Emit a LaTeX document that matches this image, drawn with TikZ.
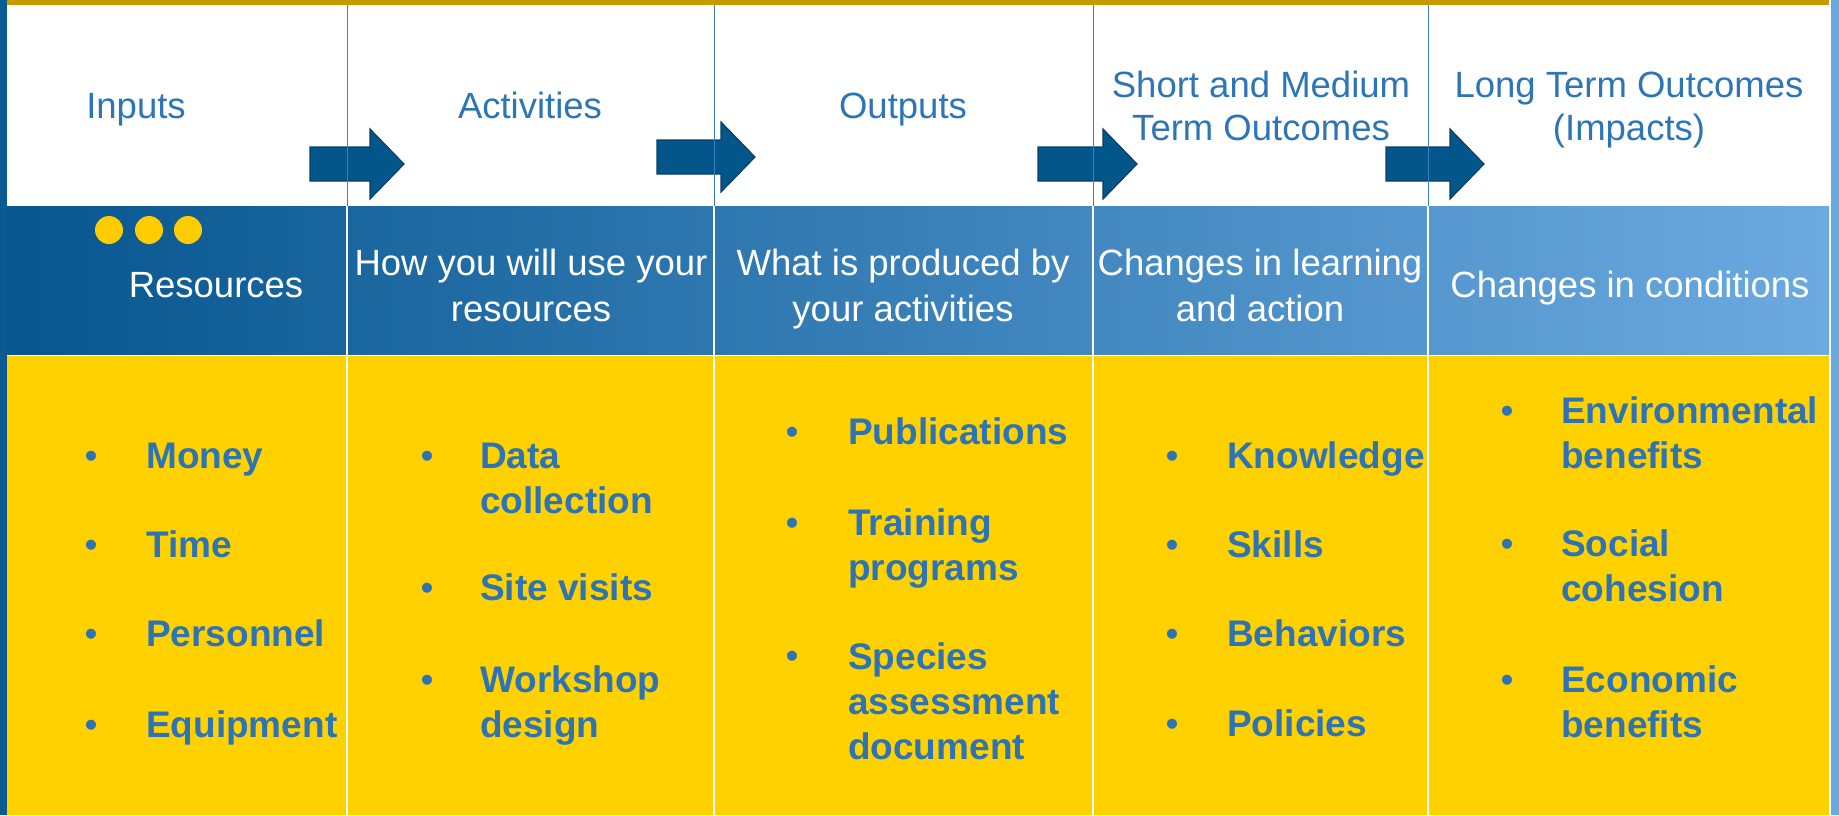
\documentclass[tikz,border=0pt]{standalone}
\usepackage{fontspec}
\setmainfont{Liberation Sans}
\definecolor{hdblue}{HTML}{2E75B6}
\definecolor{itblue}{HTML}{2E74B5}
\definecolor{bandleft}{HTML}{07568F}
\definecolor{bandright}{HTML}{6CAAE1}
\definecolor{gold}{HTML}{FFD100}
\definecolor{dotgold}{HTML}{FFCC00}
\definecolor{topgold}{HTML}{C99A00}
\definecolor{arrowfill}{HTML}{03568A}
\definecolor{arrowline}{HTML}{0A3E68}
\definecolor{sidedark}{HTML}{0B5B92}
\definecolor{sidelight}{HTML}{6AA9DF}
\definecolor{rulecol}{HTML}{3B7FBF}
\tikzset{
  head/.style={font=\fontsize{36.5}{43}\selectfont, text=hdblue, align=center, anchor=base, inner sep=0pt},
  band/.style={font=\fontsize{36.5}{46}\selectfont, text=white, align=center, anchor=base, inner sep=0pt},
  entry/.style={font=\bfseries\fontsize{37}{45}\selectfont, text=itblue, align=left, anchor=base west, inner sep=0pt},
  bull/.style={font=\fontsize{37}{45}\selectfont, text=itblue, anchor=base, inner sep=0pt},
  flow/.style={fill=arrowfill, draw=arrowline, line width=1.2pt, line join=miter},
}
\begin{document}
\begin{tikzpicture}[x=1pt,y=-1pt]
  \useasboundingbox (0,0) rectangle (1839,815);
  \fill[white] (0,0) rectangle (1839,815);
  % frame bars
  \fill[sidedark] (0,0) rectangle (7,815);
  \fill[topgold] (7,0) rectangle (1829,5);
  \fill[sidelight] (1831,0) rectangle (1839,815);
  % bands
  \shade[left color=bandleft, right color=bandright] (7,206) rectangle (1829,354);
  \fill[gold] (7,356) rectangle (1829,815);
  % arrows between columns
  \foreach \a/\b/\y in {310/404/164, 657/755/157, 1038/1137/164, 1386/1484/164}
    \draw[flow] (\a,\y-17) -- (\b-34,\y-17) -- (\b-34,\y-35) -- (\b,\y)
      -- (\b-34,\y+35) -- (\b-34,\y+17) -- (\a,\y+17) -- cycle;
  % column rules
  \foreach \x in {347,714,1093,1428} {
    \draw[rulecol, line width=1pt] (\x,5) -- (\x,206);
    \draw[white, line width=1.5pt] (\x,206) -- (\x,815);
  }
  % headers (multi-line nodes sit on their last line)
  \node[head] (hin) at (136,118) {Inputs};
  \node[head] (hact) at (530,118) {Activities};
  \node[head] (hout) at (903,118) {Outputs};
  \node[head] (hsmo) at (1261,140) {Short and Medium\\Term Outcomes};
  \node[head] (hlto) at (1629,140) {Long Term Outcomes\\(Impacts)};
  % blue band
  \foreach \x in {109,149,188}
    \fill[dotgold] (\x,230) circle (14);
  \node[band] (bin) at (216,297) {Resources};
  \node[band] (bact) at (531,321) {How you will use your\\resources};
  \node[band] (bout) at (903,321) {What is produced by\\your activities};
  \node[band] (bsmo) at (1260,321) {Changes in learning\\and action};
  \node[band] (blto) at (1630,297) {Changes in conditions};
  % lists: bullet on first line, text on last line
  \foreach \t/\y/\z [count=\i] in {Money/468/468, Time/557/557, Personnel/646/646, Equipment/737/737} {
    \node[bull] (inb\i) at (91,\y) {•};
    \node[entry] (in\i) at (146,\z) {\t};
  }
  \foreach \t/\y/\z [count=\i] in {{Data\\collection}/468/513, {Site visits}/600/600, {Workshop\\design}/692/737} {
    \node[bull] (actb\i) at (427,\y) {•};
    \node[entry] (act\i) at (480,\z) {\t};
  }
  \foreach \t/\y/\z [count=\i] in {Publications/444/444, {Training\\programs}/535/580, {Species\\assessment\\document}/668/759} {
    \node[bull] (outb\i) at (792,\y) {•};
    \node[entry] (out\i) at (848,\z) {\t};
  }
  \foreach \t/\y/\z [count=\i] in {Knowledge/468/468, Skills/557/557, Behaviors/646/646, Policies/736/736} {
    \node[bull] (smob\i) at (1172,\y) {•};
    \node[entry] (smo\i) at (1227,\z) {\t};
  }
  \foreach \t/\y/\z [count=\i] in {{Environmental\\benefits}/423/468, {Social\\cohesion}/556/601, {Economic\\benefits}/692/737} {
    \node[bull] (ltob\i) at (1507,\y) {•};
    \node[entry] (lto\i) at (1561,\z) {\t};
  }
\end{tikzpicture}
\end{document}
